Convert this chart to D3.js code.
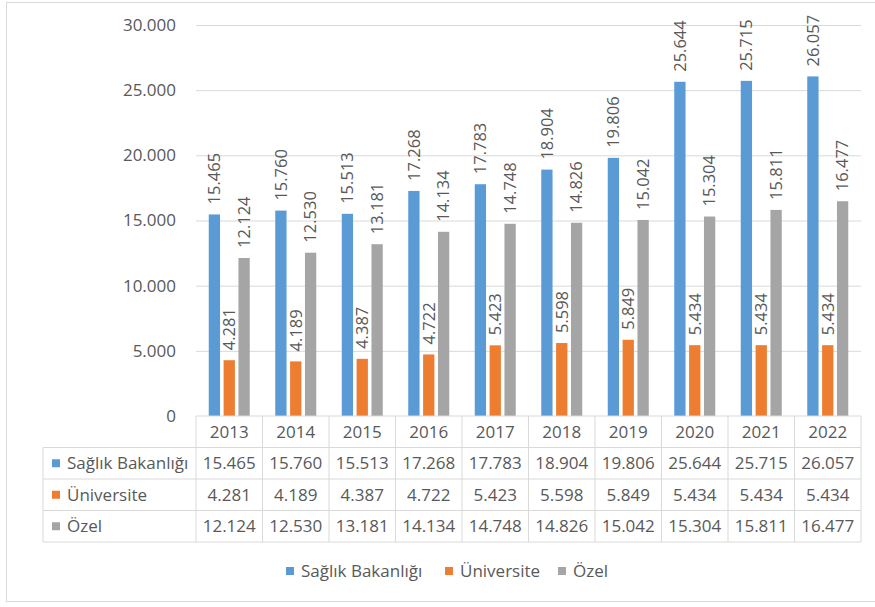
<!DOCTYPE html>
<html>
<head>
<meta charset="utf-8">
<script src="https://cdn.jsdelivr.net/npm/d3@7"></script>
<style>
  body { margin: 0; background: #fff; }
  text { font-family: "Open Sans", "Noto Sans", sans-serif; fill: #595959; }
</style>
</head>
<body>
<div id="chart"></div>
<script>
"use strict";

var years = ["2013", "2014", "2015", "2016", "2017", "2018", "2019", "2020", "2021", "2022"];
var seriesNames = ["Sağlık Bakanlığı", "Üniversite", "Özel"];
var saglik = [15465, 15760, 15513, 17268, 17783, 18904, 19806, 25644, 25715, 26057];
var universite = [4281, 4189, 4387, 4722, 5423, 5598, 5849, 5434, 5434, 5434];
var ozel = [12124, 12530, 13181, 14134, 14748, 14826, 15042, 15304, 15811, 16477];
var yTicks = [0, 5000, 10000, 15000, 20000, 25000, 30000];
var colors = ["#5b9bd5", "#ed7d31", "#a5a5a5"];

var series = [saglik, universite, ozel].map(function(vals, i) {
  return { name: seriesNames[i], values: vals, color: colors[i] };
});

var W = 875, H = 607;
var plotLeft = 196, plotRight = 861, plotTop = 25, plotBottom = 416;
var rowH = 31.5, gridColor = "#d9d9d9";
var fs = 17;

// Turkish style thousands separator
var fmt = function(v) {
  return v === 0 ? "0" : d3.format(",")(v).replace(/,/g, ".");
};

var svg = d3.select("#chart").append("svg")
  .attr("width", W)
  .attr("height", H);

// outer frame
svg.append("rect")
  .attr("x", 6.5).attr("y", 2.5)
  .attr("width", 880).attr("height", 599)
  .attr("fill", "none")
  .attr("stroke", gridColor);

var x = d3.scaleBand().domain(years).range([plotLeft, plotRight]);
var y = d3.scaleLinear().domain([0, 30000]).range([plotBottom, plotTop]);
var xInner = d3.scaleBand()
  .domain(d3.range(series.length))
  .range([0, 41])
  .paddingInner(0.24);
var groupOffset = (x.bandwidth() - 41) / 2;

// gridlines + y labels
var yAxis = svg.append("g")
  .attr("transform", "translate(" + plotLeft + ",0)")
  .call(d3.axisLeft(y).tickValues(yTicks).tickFormat(fmt)
    .tickSize(-(plotRight - plotLeft)).tickPadding(20));
yAxis.select(".domain").remove();
yAxis.selectAll(".tick line")
  .attr("stroke", function(d) { return d === 0 ? "none" : gridColor; });
yAxis.selectAll(".tick text")
  .attr("font-size", fs)
  .attr("fill", "#595959")
  .attr("font-family", "'Open Sans', sans-serif");

// bars
var groups = svg.append("g").selectAll("g.year")
  .data(years)
  .enter()
  .append("g")
  .attr("class", "year")
  .attr("transform", function(d) {
    return "translate(" + (x(d) + groupOffset) + ",0)";
  });

groups.selectAll("rect")
  .data(function(d, i) {
    return series.map(function(s, j) {
      return { s: j, value: s.values[i], color: s.color };
    });
  })
  .enter()
  .append("rect")
  .attr("x", function(d) { return xInner(d.s); })
  .attr("y", function(d) { return y(d.value); })
  .attr("width", xInner.bandwidth())
  .attr("height", function(d) { return y(0) - y(d.value); })
  .attr("fill", function(d) { return d.color; });

// rotated data labels
groups.selectAll("text.lbl")
  .data(function(d, i) {
    return series.map(function(s, j) {
      return { s: j, value: s.values[i] };
    });
  })
  .enter()
  .append("text")
  .attr("class", "lbl")
  .attr("font-size", 16.5)
  .attr("dy", "0.35em")
  .attr("transform", function(d) {
    var cx = xInner(d.s) + xInner.bandwidth() / 2;
    return "translate(" + cx + "," + (y(d.value) - 10) + ") rotate(-90)";
  })
  .text(function(d) { return fmt(d.value); });

// data table
var table = svg.append("g");
var tableLeft = 43;

// header row (years)
table.selectAll("text.year")
  .data(years)
  .enter()
  .append("text")
  .attr("class", "year")
  .attr("x", function(d) { return x(d) + x.bandwidth() / 2; })
  .attr("y", plotBottom + rowH / 2)
  .attr("dy", "0.35em")
  .attr("text-anchor", "middle")
  .attr("font-size", fs)
  .text(function(d) { return d; });

// value rows
var rows = table.selectAll("g.row")
  .data(series)
  .enter()
  .append("g")
  .attr("class", "row")
  .attr("transform", function(d, i) {
    return "translate(0," + (plotBottom + rowH * (i + 1)) + ")";
  });

rows.append("rect")
  .attr("x", 52)
  .attr("y", rowH / 2 - 4)
  .attr("width", 8)
  .attr("height", 8)
  .attr("fill", function(d) { return d.color; });

rows.append("text")
  .attr("x", 67)
  .attr("y", rowH / 2)
  .attr("dy", "0.35em")
  .attr("font-size", fs)
  .text(function(d) { return d.name; });

rows.selectAll("text.val")
  .data(function(d) { return d.values; })
  .enter()
  .append("text")
  .attr("class", "val")
  .attr("x", function(d, i) { return x(years[i]) + x.bandwidth() / 2; })
  .attr("y", rowH / 2)
  .attr("dy", "0.35em")
  .attr("text-anchor", "middle")
  .attr("font-size", fs)
  .text(fmt);

// table grid lines
var lines = table.append("g")
  .attr("stroke", gridColor)
  .attr("fill", "none");

var tableBottom = plotBottom + rowH * 4;
// horizontal
[0, 1, 2, 3, 4].forEach(function(r) {
  lines.append("line")
    .attr("x1", r === 0 ? plotLeft : tableLeft)
    .attr("x2", plotRight)
    .attr("y1", plotBottom + rowH * r)
    .attr("y2", plotBottom + rowH * r);
});
// vertical
years.concat(["end"]).forEach(function(yr) {
  var xx = yr === "end" ? plotRight : x(yr);
  lines.append("line")
    .attr("x1", xx).attr("x2", xx)
    .attr("y1", plotBottom)
    .attr("y2", tableBottom);
});
lines.append("line")
  .attr("x1", tableLeft).attr("x2", tableLeft)
  .attr("y1", plotBottom + rowH)
  .attr("y2", tableBottom);

// legend
var legendX = [286, 445, 558];
var legend = svg.append("g").selectAll("g.leg")
  .data(series)
  .enter()
  .append("g")
  .attr("class", "leg")
  .attr("transform", function(d, i) {
    return "translate(" + legendX[i] + ",571)";
  });

legend.append("rect")
  .attr("x", 0).attr("y", -4)
  .attr("width", 8).attr("height", 8)
  .attr("fill", function(d) { return d.color; });

legend.append("text")
  .attr("x", 15)
  .attr("dy", "0.35em")
  .attr("font-size", fs)
  .text(function(d) { return d.name; });
</script>
</body>
</html>
